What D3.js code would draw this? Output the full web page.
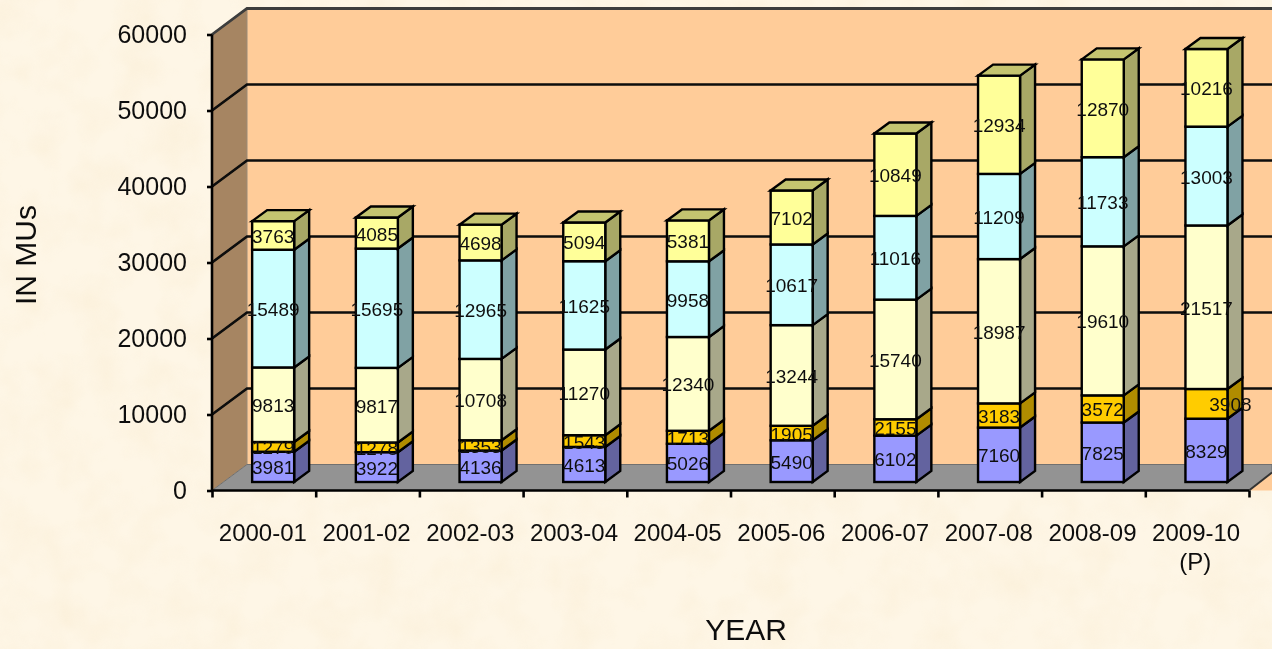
<!DOCTYPE html>
<html><head><meta charset="utf-8">
<script src="https://cdn.jsdelivr.net/npm/d3@7"></script>
<style>html,body{margin:0;padding:0;background:#fdf4e3;overflow:hidden}svg{display:block}text{font-family:"Liberation Sans",Arial,sans-serif;fill:#111}</style>
</head><body><svg id="c" width="1272" height="649"></svg>
<script>
const years=["2000-01","2001-02","2002-03","2003-04","2004-05","2005-06","2006-07","2007-08","2008-09","2009-10"];
const seriesA=[3981,3922,4136,4613,5026,5490,6102,7160,7825,8329];
const seriesB=[1279,1278,1353,1543,1713,1905,2155,3183,3572,3908];
const seriesC=[9813,9817,10708,11270,12340,13244,15740,18987,19610,21517];
const seriesD=[15489,15695,12965,11625,9958,10617,11016,11209,11733,13003];
const seriesE=[3763,4085,4698,5094,5381,7102,10849,12934,12870,10216];
const yTicks=[0,10000,20000,30000,40000,50000,60000];
const faceColors=["#9999ff","#ffcc00","#ffffcc","#ccffff","#ffff99"];
const sideColors=["#64649f","#b08c00","#a8a88a","#80a2a4","#a8a866"];
const topColor="#c4c470";

const all=[seriesA,seriesB,seriesC,seriesD,seriesE];
const svg=d3.select("#c");
const defs=svg.append("defs");
const tex=defs.append("filter").attr("id","tex").attr("x",0).attr("y",0).attr("width","100%").attr("height","100%");
tex.append("feTurbulence").attr("type","fractalNoise").attr("baseFrequency","0.025").attr("numOctaves",3).attr("seed",4);
tex.append("feColorMatrix").attr("type","matrix").attr("values","0 0 0 0 0.93  0 0 0 0 0.80  0 0 0 0 0.58  1.1 0 0 0 -0.42");
const soft=defs.append("filter").attr("id","soft");
soft.append("feGaussianBlur").attr("stdDeviation",0.45);
svg.append("rect").attr("width",1272).attr("height",649).attr("fill","#fef6e6");
svg.append("rect").attr("width",1272).attr("height",649).attr("filter","url(#tex)").attr("opacity",0.55);

const g=svg.append("g").attr("filter","url(#soft)");
const y=d3.scaleLinear().domain([0,60000]).range([490.5,34.5]);
const x=d3.scaleBand().domain(years).range([212,1249]);
const depthX=35,depthY=-26,barDX=15,barDY=-11,barW=42,barBase=-8.5,barShift=9.3;
const line=d3.line();

// walls and floor
g.append("path").attr("d",line([[212,y(0)],[212+depthX,y(0)+depthY],[212+depthX,y(60000)+depthY],[212,y(60000)]])+"Z").attr("fill","#a68562");
g.append("rect").attr("x",212+depthX).attr("y",y(60000)+depthY).attr("width",1272-212-depthX).attr("height",-depthY+y(0)-y(60000)).attr("fill","#ffcc99");
g.append("line").attr("x1",212+depthX).attr("x2",212+depthX).attr("y1",y(60000)+depthY).attr("y2",y(0)+depthY).attr("stroke","#9a8a78").attr("stroke-width",1);
// grid lines
yTicks.filter(d=>d>0).forEach(d=>{
  g.append("path").attr("d",line([[212,y(d)],[212+depthX,y(d)+depthY],[1272,y(d)+depthY]])).attr("fill","none")
    .attr("stroke",d===60000?"#3c3c3c":"#0a0a0a").attr("stroke-width",d===60000?2.8:2.6);
});
g.append("path").attr("d",line([[212,y(0)],[212+depthX,y(0)+depthY],[1272,y(0)+depthY],[1272,y(0)-18],[1249,y(0)]])+"Z").attr("fill","#939393").attr("stroke","#6f6f6f").attr("stroke-width",1);

// axes
const yAxis=d3.axisLeft(y).tickValues(yTicks).tickFormat(d3.format("d")).tickSize(5).tickPadding(20);
const ya=g.append("g").attr("transform","translate(212,0)").call(yAxis);
const xAxis=d3.axisBottom(d3.scaleLinear().domain([0,10]).range([212,1249])).tickValues(d3.range(0,11)).tickSize(7).tickFormat("");
const xa=g.append("g").attr("transform",`translate(0,${y(0)})`).call(xAxis);
[ya,xa].forEach(a=>{a.selectAll("path,line").attr("stroke","#000").attr("stroke-width",2.6);});
ya.select(".domain").attr("d",`M0,${y(60000)}V${y(0)}`);
xa.select(".domain").attr("d",`M212,0H1249`);
ya.selectAll("text").attr("font-size",25).attr("fill","#111");
g.append("path").attr("d",line([[1249,y(0)],[1272,y(0)-18]])).attr("fill","none").attr("stroke","#333").attr("stroke-width",2);

// bars
const bars=g.selectAll("g.bar").data(years).join("g").attr("class","bar");
const barX=yr=>x(yr)+(x.bandwidth()-barW)/2+barShift;
bars.each(function(yr,i){
  const sel=d3.select(this);
  const bx=barX(yr);
  let cum=0;
  all.forEach((s,k)=>{
    const y0=y(cum)+barBase, y1=y(cum+s[i])+barBase;
    cum+=s[i];
    sel.append("path").attr("d",line([[bx+barW,y0],[bx+barW+barDX,y0+barDY],[bx+barW+barDX,y1+barDY],[bx+barW,y1]])+"Z")
      .attr("fill",sideColors[k]).attr("stroke","#000").attr("stroke-width",2.4);
    sel.append("rect").attr("x",bx).attr("y",y1).attr("width",barW).attr("height",y0-y1)
      .attr("fill",faceColors[k]).attr("stroke","#000").attr("stroke-width",2.4);
    if(k===all.length-1){
      sel.append("path").attr("d",line([[bx,y1],[bx+barDX,y1+barDY],[bx+barW+barDX,y1+barDY],[bx+barW,y1]])+"Z")
        .attr("fill",topColor).attr("stroke","#000").attr("stroke-width",2.4);
    }
  });
});
// data labels on top of every bar
const labels=g.append("g");
years.forEach((yr,i)=>{
  const bx=barX(yr);
  let cum=0;
  all.forEach((s,k)=>{
    const mid=y(cum+s[i]/2)+barBase;
    cum+=s[i];
    const shift=(k===1&&i===years.length-1)?24:0;
    labels.append("text").attr("x",bx+barW/2+shift).attr("y",mid+7.5).attr("text-anchor","middle").attr("font-size",19).text(s[i]);
  });
});
// category labels
years.forEach(yr=>{
  g.append("text").attr("x",x(yr)+x.bandwidth()/2-1).attr("y",541).attr("text-anchor","middle").attr("font-size",24).text(yr);
});
g.append("text").attr("x",x(years[9])+x.bandwidth()/2-2).attr("y",570).attr("text-anchor","middle").attr("font-size",24).text("(P)");
g.append("text").attr("x",746).attr("y",640).attr("text-anchor","middle").attr("font-size",30).text("YEAR");
g.append("text").attr("transform","translate(36,255) rotate(-90)").attr("text-anchor","middle").attr("font-size",30).text("IN MUs");
</script></body></html>
